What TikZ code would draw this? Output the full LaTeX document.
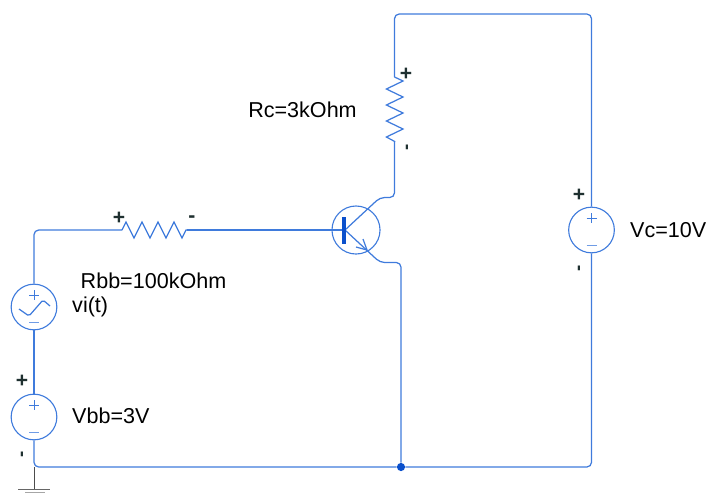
\documentclass[tikz,border=0pt]{standalone}
\usepackage{fontspec}
\setmainfont{Liberation Sans}
\definecolor{wireblue}{HTML}{3F7BDC}
\definecolor{barblue}{HTML}{0B50CC}
\definecolor{markgrey}{HTML}{1F3030}
\tikzset{
    wire/.style={draw=wireblue, line width=1.05pt},
    railwire/.style={wire, rounded corners=4pt},
    source/.style={circle, draw=wireblue, line width=0.95pt, minimum size=39pt, inner sep=0pt},
    lbl/.style={font=\fontsize{18.4}{20}\selectfont, inner sep=0pt},
    polarity/.style={font=\fontsize{18}{18}\selectfont\bfseries, text=markgrey, inner sep=0pt},
    tick/.style={polarity, font=\fontsize{16}{16}\selectfont\bfseries, rotate=90}
}
\begin{document}
\begin{tikzpicture}[x=0.03cm, y=-0.03cm]
    \useasboundingbox (0,0) rectangle (707,493);
    % sources and transistor
    \node [source] (vi) at (34,307) {};
    \node [source] (vbb) at (34,417) {};
    \node [source] (vc) at (591.5,230) {};
    \node [source, minimum size=41pt] (bjt) at (356,230) {};
    % resistor ends and corners
    \coordinate (rbbleft) at (122,230);
    \coordinate (rbbright) at (187,230);
    \coordinate (rctop) at (394.5,77);
    \coordinate (rcbottom) at (394.5,142);
    \coordinate (base) at (345,230);
    \coordinate (gnd) at (34,467);
    \coordinate (emtip) at (367,250);
    \node [circle, fill=barblue, inner sep=0pt, minimum size=7pt] (junction) at (401,467) {};
    % wires
    \draw [railwire] (vi.north) |- (rbbleft);
    \draw [wire] (rbbright) -- (base);
    \draw [wire] (vi.south) -- (vbb.north);
    \draw [railwire] (vbb.south) |- (junction);
    \draw [railwire] (rctop) -- (394.5,14) -- (591.5,14) -- (vc.north);
    \draw [railwire] (vc.south) |- (junction);
    \draw [railwire] (base) -- (380,197.5) -- (394.5,197.5) -- (rcbottom);
    \draw [railwire] (base) -- (380,262.5) -- (401,262.5) -- (junction);
    \draw [wire] (emtip) -- ++(-11,-3);
    \draw [wire] (emtip) -- ++(-4,-11);
    \draw [draw=barblue, line width=3.6pt] (344,217) -- (344,244);
    % resistors
    \draw [wire] (rbbleft) -- ++(4,-8) foreach \i in {1,2,3} {-- ++(8,16) -- ++(8,-16)} -- ++(8,16) -- ++(4,-8) -- (rbbright);
    \draw [wire] (rctop) -- ++(8.5,4) foreach \i in {1,2,3} {-- ++(-16.6,8) -- ++(16.6,8)} -- ++(-16.6,8) -- ++(8.3,4.5) -- (rcbottom);
    % signs inside the sources
    \foreach \s in {vi,vbb,vc} {
        \draw [wire, line width=0.8pt] (\s) ++(-5,-12) -- ++(10,0);
        \draw [wire, line width=0.8pt] (\s) ++(0,-17) -- ++(0,10);
        \draw [wire, line width=1.1pt, wireblue!75] (\s) ++(-5,15.5) -- ++(10,0);
    }
    \draw [wire, rounded corners=1.5pt] (vi) ++(-15,2) -- ++(10,7) -- ++(14,-16) -- ++(7,6);
    % ground
    \draw [draw=black!70, line width=0.8pt] (gnd) -- (34,489);
    \draw [draw=black!60, line width=0.8pt] (18,489) -- (50,489);
    \draw [draw=black!35, line width=0.8pt] (25,492) -- (45,492);
    % labels
    \node [lbl] (rclabel) at (302.5,110) {Rc=3kOhm};
    \node [lbl] (rbblabel) at (153.5,281) {Rbb=100kOhm};
    \node [lbl, anchor=west] (vilabel) at (72,307) {vi(t)};
    \node [lbl, anchor=west] (vbblabel) at (72,416) {Vbb=3V};
    \node [lbl, anchor=west] (vclabel) at (630,230) {Vc=10V};
    \node [polarity] (rcplus) at (406,74) {+};
    \node [tick] (rcminus) at (409,147) {-};
    \node [polarity] (rbbplus) at (119,218) {+};
    \node [polarity] (rbbminus) at (192,219) {-};
    \node [polarity] (vbbplus) at (22,381) {+};
    \node [tick] (vbbminus) at (24,454) {-};
    \node [polarity] (vcplus) at (579,195) {+};
    \node [tick] (vcminus) at (581,268) {-};
\end{tikzpicture}
\end{document}
